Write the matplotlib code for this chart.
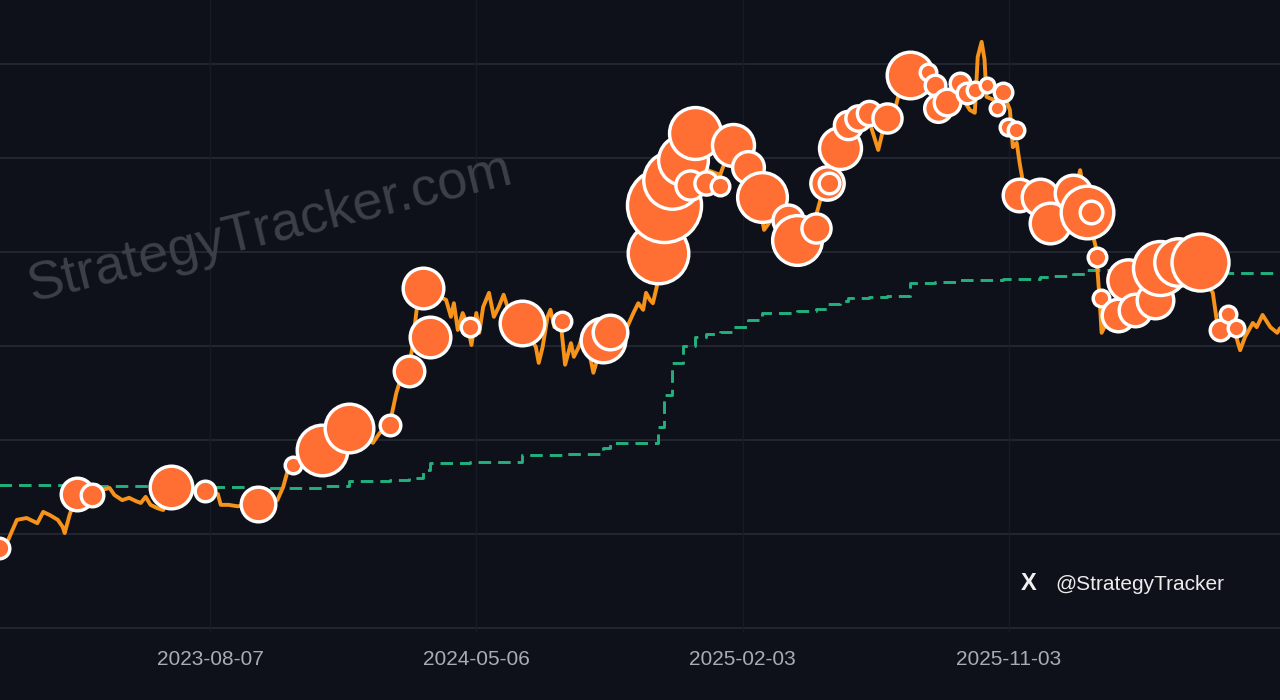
import matplotlib
matplotlib.use("Agg")
import matplotlib.pyplot as plt
import numpy as np
import pandas as pd

# ---------------- data ----------------
price_dates = [
    "2023-01-04", "2023-01-12", "2023-01-21", "2023-01-31", "2023-02-11", "2023-02-17",
    "2023-02-24", "2023-03-04", "2023-03-09", "2023-03-11", "2023-03-16", "2023-03-23",
    "2023-04-02", "2023-04-13", "2023-04-19", "2023-04-26", "2023-05-01", "2023-05-09",
    "2023-05-16", "2023-05-23", "2023-05-28", "2023-06-02", "2023-06-07", "2023-06-14",
    "2023-06-20", "2023-06-29", "2023-07-18", "2023-08-02", "2023-08-15", "2023-08-18",
    "2023-08-26", "2023-09-04", "2023-09-25", "2023-10-07", "2023-10-15", "2023-10-21",
    "2023-10-25", "2023-10-31", "2023-11-18", "2023-11-30", "2023-12-13", "2023-12-26",
    "2024-01-13", "2024-01-21", "2024-01-28", "2024-02-07", "2024-02-14", "2024-02-19",
    "2024-02-26", "2024-03-01", "2024-03-07", "2024-03-11", "2024-03-25", "2024-04-05",
    "2024-04-10", "2024-04-13", "2024-04-17", "2024-04-22", "2024-04-27", "2024-05-01",
    "2024-05-06", "2024-05-09", "2024-05-13", "2024-05-19", "2024-05-24", "2024-05-29",
    "2024-06-03", "2024-06-07", "2024-06-15", "2024-06-28", "2024-07-06", "2024-07-09",
    "2024-07-13", "2024-07-18", "2024-07-21", "2024-07-25", "2024-07-31", "2024-08-05",
    "2024-08-11", "2024-08-14", "2024-08-19", "2024-08-25", "2024-09-03", "2024-09-06",
    "2024-09-15", "2024-09-25", "2024-10-05", "2024-10-14", "2024-10-19", "2024-10-24",
    "2024-10-27", "2024-10-31", "2024-11-03", "2024-11-07", "2024-11-13", "2024-11-20",
    "2024-11-30", "2024-12-10", "2024-12-21", "2024-12-29", "2025-01-11", "2025-01-24",
    "2025-02-05", "2025-02-15", "2025-02-25", "2025-03-08", "2025-03-18", "2025-03-29",
    "2025-04-08", "2025-04-18", "2025-04-28", "2025-05-09", "2025-05-19", "2025-06-03",
    "2025-06-13", "2025-06-22", "2025-06-29", "2025-07-09", "2025-07-19", "2025-08-04",
    "2025-08-14", "2025-08-24", "2025-09-04", "2025-09-14", "2025-09-24", "2025-09-29",
    "2025-10-02", "2025-10-06", "2025-10-09", "2025-10-11", "2025-10-19", "2025-10-27",
    "2025-11-04", "2025-11-07", "2025-11-11", "2025-11-14", "2025-11-17", "2025-11-24",
    "2025-12-10", "2025-12-25", "2026-01-10", "2026-01-15", "2026-01-22", "2026-01-31",
    "2026-02-04", "2026-02-06", "2026-02-15", "2026-03-02", "2026-03-17", "2026-04-07",
    "2026-05-02", "2026-05-23", "2026-05-31", "2026-06-04", "2026-06-12", "2026-06-21",
    "2026-06-28", "2026-07-03", "2026-07-11", "2026-07-15", "2026-07-21", "2026-07-29",
    "2026-08-05", "2026-08-08",
]
btc_price_k = [
    16.8, 18.7, 23.0, 23.4, 22.3, 24.7,
    24.0, 23.0, 21.5, 20.2, 24.0, 28.3,
    27.9, 30.4, 29.4, 29.8, 28.3, 27.2,
    27.7, 27.0, 26.6, 27.9, 26.2, 25.5,
    25.1, 30.2, 29.4, 28.9, 28.5, 26.2,
    26.2, 25.9, 26.2, 26.8, 27.2, 30.0,
    33.0, 34.7, 36.2, 37.9, 40.0, 42.6,
    40.4, 39.4, 41.5, 43.2, 50.0, 53.4,
    54.7, 59.1, 69.8, 71.9, 70.9, 69.8,
    66.2, 69.1, 63.4, 67.0, 64.5, 60.2,
    67.0, 62.8, 68.3, 71.3, 66.2, 68.3,
    70.9, 68.3, 66.6, 62.3, 59.8, 56.4,
    59.8, 66.2, 67.7, 64.0, 66.0, 56.0,
    60.6, 57.7, 59.8, 63.4, 54.3, 56.4,
    60.2, 62.3, 62.8, 67.0, 69.1, 67.7,
    71.3, 69.8, 69.1, 72.6, 87.9, 97.4,
    99.6, 103.8, 107.0, 97.4, 96.4, 103.8,
    99.6, 96.4, 84.7, 87.9, 83.6, 80.9,
    81.5, 86.8, 94.3, 98.5, 106.0, 108.1,
    107.7, 101.7, 107.7, 110.2, 118.3, 114.5,
    119.8, 111.3, 112.3, 113.4, 110.2, 109.6,
    121.5, 124.7, 120.9, 113.0, 112.3, 114.5,
    110.2, 102.3, 103.2, 98.9, 95.3, 88.9,
    91.1, 87.9, 93.2, 97.4, 88.5, 81.1,
    69.8, 62.8, 66.6, 69.8, 70.9, 73.0,
    75.1, 74.0, 71.3, 65.5, 63.4, 64.0,
    59.1, 61.9, 64.9, 64.0, 66.6, 64.0,
    62.8, 63.8,
]

buy_dates = [
    "2023-01-03", "2023-03-24", "2023-04-08", "2023-06-28", "2023-08-02", "2023-09-25",
    "2023-10-31", "2023-11-30", "2023-12-27", "2024-02-08", "2024-02-27", "2024-03-12",
    "2024-03-20", "2024-04-30", "2024-06-22", "2024-08-02", "2024-09-13", "2024-09-20",
    "2024-11-08", "2024-11-14", "2024-11-23", "2024-12-04", "2024-12-11", "2024-12-16",
    "2024-12-27", "2025-01-11", "2025-01-24", "2025-02-09", "2025-02-23", "2025-03-22",
    "2025-03-31", "2025-04-19", "2025-04-30", "2025-05-03", "2025-05-14", "2025-05-22",
    "2025-06-01", "2025-06-13", "2025-07-01", "2025-07-25", "2025-08-12", "2025-08-19",
    "2025-08-22", "2025-09-01", "2025-09-14", "2025-09-21", "2025-09-29", "2025-10-12",
    "2025-10-22", "2025-10-28", "2025-11-02", "2025-11-10", "2025-11-13", "2025-12-05",
    "2025-12-15", "2026-01-08", "2026-01-22", "2026-01-26", "2026-02-01", "2026-02-05",
    "2026-02-23", "2026-03-05", "2026-03-12", "2026-04-02", "2026-04-07", "2026-04-25",
    "2026-05-18", "2026-06-07", "2026-06-16", "2026-06-24",
]
buy_price_k = [
    17.0, 28.5, 28.3, 30.0, 29.1, 26.4,
    34.7, 37.9, 42.6, 43.2, 54.7, 72.3,
    61.9, 64.0, 64.9, 65.3, 61.3, 63.0,
    79.8, 90.0, 95.3, 99.6, 94.3, 105.3,
    94.7, 94.0, 102.8, 98.1, 91.7, 86.8,
    82.6, 85.1, 94.7, 94.7, 102.1, 107.0,
    108.5, 109.6, 108.5, 117.7, 118.3, 115.5,
    110.6, 111.9, 116.0, 113.8, 114.5, 115.5,
    110.6, 114.0, 106.6, 106.0, 92.1, 91.7,
    86.2, 92.6, 88.5, 88.5, 78.9, 70.2,
    66.6, 74.0, 67.7, 69.8, 76.6, 77.9,
    77.9, 63.4, 66.8, 63.8,
]
buy_btc = [
    4900, 11000, 5750, 18000, 4900, 12300,
    3400, 24800, 23000, 4900, 9800, 16500,
    16500, 4100, 19600, 4100, 19600, 12300,
    34800, 51000, 31500, 24000, 9000, 26000,
    6000, 4100, 17500, 10500, 24000, 10000,
    24000, 9000, 11500, 4900, 17500, 8500,
    7000, 6500, 9000, 21250, 3400, 4900,
    8200, 7650, 4900, 4900, 3400, 2750,
    2750, 4100, 3400, 3400, 11000, 13600,
    16500, 13600, 26700, 5750, 4100, 3400,
    11000, 17000, 11000, 13600, 28000, 22000,
    31000, 4900, 3400, 3400,
]

cost_dates = [
    "2023-01-03", "2023-03-24", "2023-06-28", "2023-09-25", "2023-11-30", "2023-12-27",
    "2024-02-08", "2024-02-27", "2024-03-12", "2024-03-20", "2024-04-30", "2024-06-22",
    "2024-08-02", "2024-09-13", "2024-09-20", "2024-11-08", "2024-11-14", "2024-11-23",
    "2024-12-04", "2024-12-16", "2024-12-27", "2025-01-11", "2025-01-24", "2025-02-09",
    "2025-02-23", "2025-03-31", "2025-04-19", "2025-04-30", "2025-05-14", "2025-05-22",
    "2025-06-13", "2025-07-01", "2025-07-25", "2025-08-19", "2025-09-14", "2025-10-28",
    "2025-12-05", "2025-12-15", "2026-01-08", "2026-01-22", "2026-02-23", "2026-03-12",
    "2026-04-07", "2026-05-18", "2026-08-10",
]
avg_cost_k = [
    30.4, 30.2, 30.0, 29.8, 30.2, 31.3,
    31.5, 32.0, 33.6, 35.1, 35.3, 36.8,
    37.0, 38.3, 39.4, 42.8, 49.6, 56.4,
    60.0, 62.0, 62.6, 63.0, 64.0, 65.5,
    67.0, 67.5, 67.8, 69.0, 69.5, 70.2,
    70.4, 70.6, 73.4, 73.7, 74.0, 74.3,
    74.7, 74.9, 75.3, 76.1, 75.9, 75.7,
    75.6, 75.5, 75.5,
]

tick_dates = ["2023-08-07", "2024-05-06", "2025-02-03", "2025-11-03"]
grid_values_k = [0, 20, 40, 60, 80, 100, 120]

# ---------------- style ----------------
BG = "#0e111a"
GRID = "#272c37"
VGRID = "#171b25"
LINE = "#f7931a"
BUBBLE = "#ff6f33"
COST = "#23b07e"
DPI = 100

plt.rcParams["font.family"] = ["Liberation Sans", "DejaVu Sans"]

fig = plt.figure(figsize=(12.8, 7.0), dpi=DPI, facecolor=BG)
ax = fig.add_axes([0, 68 / 700, 1, 632 / 700])
ax.set_facecolor(BG)

pd_price = pd.to_datetime(price_dates)
pd_buy = pd.to_datetime(buy_dates)
pd_cost = pd.to_datetime(cost_dates)

ax.set_xlim(pd.Timestamp("2023-01-03 17:00"), pd.Timestamp("2026-08-07 21:00"))
ax.set_ylim(-0.85, 133.6)

for g in grid_values_k:
    ax.axhline(g, color=GRID, lw=1.1, zorder=0)
for t in tick_dates:
    ax.axvline(pd.Timestamp(t), color=VGRID, lw=1.0, zorder=0)

# average cost (dashed green)
ax.plot(pd_cost, avg_cost_k, color=COST, lw=2.1, drawstyle="steps-post",
        dashes=(4.3, 2.4), zorder=2)

# BTC price line
ax.plot(pd_price, btc_price_k, color=LINE, lw=2.8, solid_joinstyle="round",
        solid_capstyle="round", zorder=3)

# purchase bubbles
r_px = np.sqrt(np.array(buy_btc, dtype=float) / 34.0)
edge_px = 3.4
sizes = (2 * (r_px - edge_px / 2) * 72.0 / DPI) ** 2
for d, p, s in zip(pd_buy, buy_price_k, sizes):
    ax.scatter([d], [p], s=s, c=BUBBLE, edgecolors="white",
               linewidths=edge_px * 72.0 / DPI, zorder=4)

# axes cosmetics
for sp in ax.spines.values():
    sp.set_visible(False)
ax.set_yticks([])
ax.set_xticks(pd.to_datetime(tick_dates))
ax.set_xticklabels(tick_dates, fontsize=15, color="#a9acb3")
ax.tick_params(axis="x", length=0, pad=13)

# watermark
fig.text(270 / 1280, 1 - 228 / 700, "StrategyTracker.com", fontsize=39,
         color="#3c404b", rotation=13.8, ha="center", va="center",
         rotation_mode="anchor", zorder=1)

# handle
fig.text(1029 / 1280, 1 - 590 / 700, "X", fontsize=17, color="#f0f0f0",
         ha="center", va="baseline", fontweight="bold")
fig.text(1055 / 1280, 1 - 590 / 700, "@StrategyTracker", fontsize=15,
         color="#ececec", ha="left", va="baseline")

fig.savefig("out.png", dpi=DPI, facecolor=BG)
